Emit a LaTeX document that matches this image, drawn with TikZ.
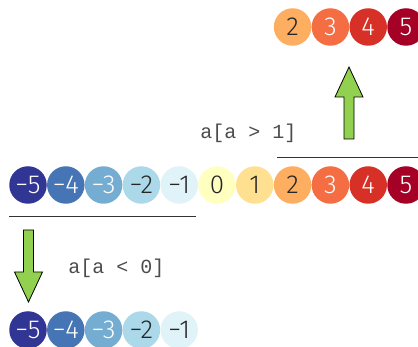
\documentclass[tikz,border=0pt]{standalone}
\usepackage{fontspec}
\setmonofont{Liberation Mono}
\newfontfamily\numfont{Fira Sans Light}
\definecolor{c0}{HTML}{313695}
\definecolor{c1}{HTML}{4575B4}
\definecolor{c2}{HTML}{74ADD1}
\definecolor{c3}{HTML}{ABD9E9}
\definecolor{c4}{HTML}{E0F3F8}
\definecolor{c5}{HTML}{FFFFBF}
\definecolor{c6}{HTML}{FEE090}
\definecolor{c7}{HTML}{FDAE61}
\definecolor{c8}{HTML}{F46D43}
\definecolor{c9}{HTML}{D73027}
\definecolor{c10}{HTML}{A50026}
\definecolor{arrowgreen}{HTML}{92D050}
\begin{document}
\begin{tikzpicture}[x=1pt,y=-1pt,
		ball/.style={circle, inner sep=0pt, minimum size=37.5pt, font=\numfont\fontsize{26}{26}\selectfont},
		code/.style={font=\ttfamily\fontsize{20}{20}\selectfont, text=black!70},
		rule/.style={draw=black!80, line width=1pt},
		bigarrow/.style={draw=black, fill=arrowgreen, line width=0.8pt, line join=miter}]
			\useasboundingbox (0,0) rectangle (418,347);
			% all values
			\foreach \lbl/\txt [count=\i from 0] in {−5/white, −4/white, −3/white, −2/black!85, −1/black!85, 0/black!85, 1/black!85, 2/black!85, 3/white, 4/white, 5/white}
				\node[ball, fill=c\i, text=\txt] (m\i) at (28+37.8*\i,185) {\lbl};
			% a > 1
			\foreach \lbl/\txt [count=\i from 7] in {2/black!85, 3/white, 4/white, 5/white}
				\node[ball, fill=c\i, text=\txt] (t\i) at (28+37.8*\i,27) {\lbl};
			% a < 0
			\foreach \lbl/\txt [count=\i from 0] in {−5/white, −4/white, −3/white, −2/black!85, −1/black!85}
				\node[ball, fill=c\i, text=\txt] (b\i) at (28+37.8*\i,330) {\lbl};
			\coordinate (gtstart) at (277,158);
			\coordinate (gtend) at (418,158);
			\coordinate (ltstart) at (9,217);
			\coordinate (ltend) at (196,217);
			\draw[rule] (gtstart) -- (gtend);
			\draw[rule] (ltstart) -- (ltend);
			\node[code] (gtlabel) at (248.5,133) {a[a > 1]};
			\node[code] (ltlabel) at (116.5,268) {a[a < 0]};
			\draw[bigarrow] (344,139) -- (344,97) -- (335,97) -- (349,67) -- (363,97) -- (354,97) -- (354,139) -- cycle;
			\draw[bigarrow] (23.5,230) -- (23.5,272) -- (14.5,272) -- (28.5,302) -- (42.5,272) -- (33.5,272) -- (33.5,230) -- cycle;
		\end{tikzpicture}
\end{document}
